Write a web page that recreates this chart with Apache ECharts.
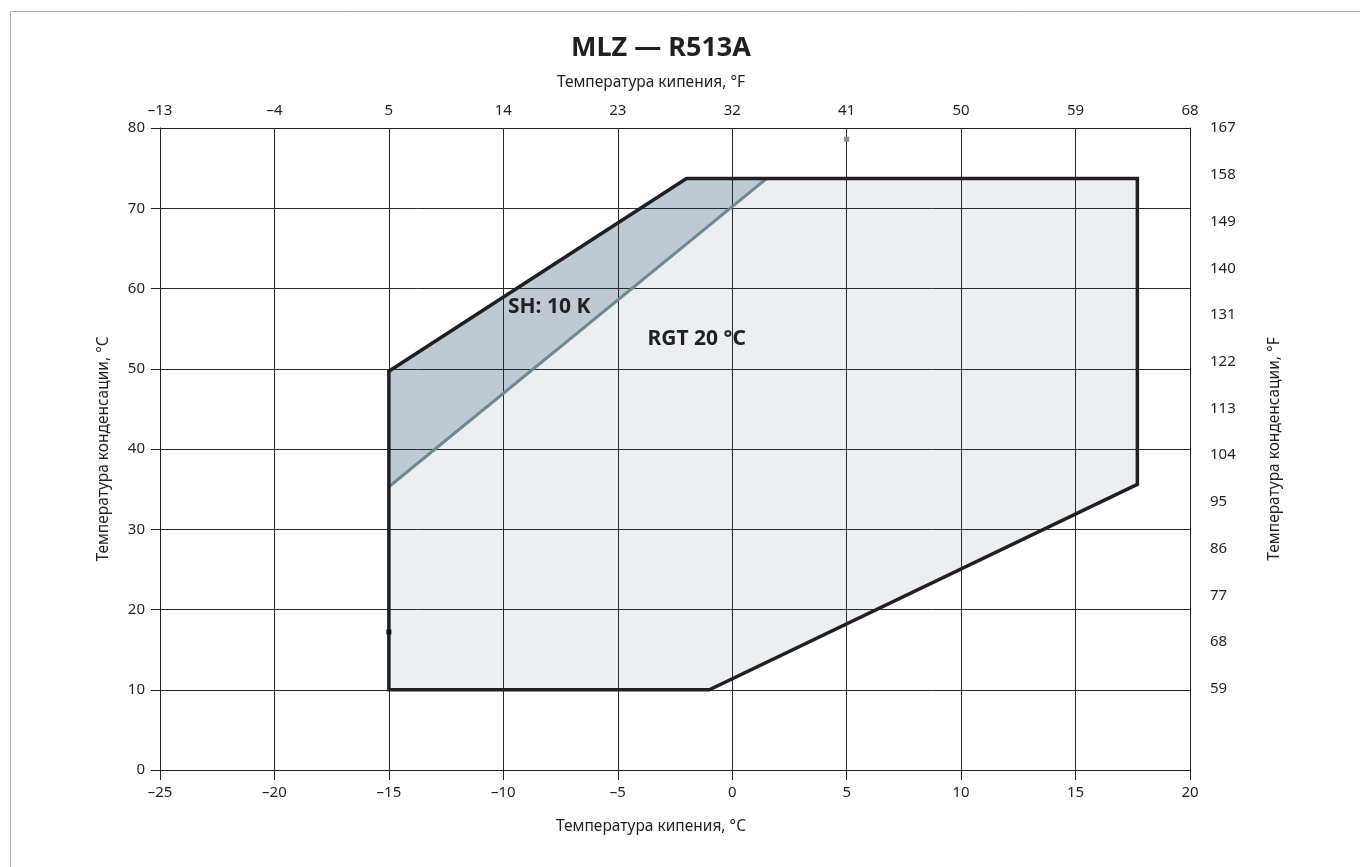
<!DOCTYPE html>
<html>
<head>
<meta charset="utf-8">
<script src="https://cdn.jsdelivr.net/npm/echarts@6/dist/echarts.min.js"></script>
<style>html,body{margin:0;padding:0;background:#fff;}#c{width:1360px;height:867px;}</style>
</head>
<body>
<div id="c"></div>
<script>
// ---- data ----
const titleText = 'MLZ — R513A';
const xNameC = 'Температура кипения, °C';
const xNameF = 'Температура кипения, °F';
const yNameC = 'Температура конденсации, °C';
const yNameF = 'Температура конденсации, °F';
const topTicksF = [-13, -4, 5, 14, 23, 32, 41, 50, 59, 68];
const rightTicksF = [59, 68, 77, 86, 95, 104, 113, 122, 131, 140, 149, 158, 167];
// operating envelope (evap °C, cond °C)
const envelopeX = [-15, -15, -2, 17.7, 17.7, -1, -15];
const envelopeY = [10, 49.7, 73.7, 73.7, 35.6, 10, 10];
// SH 10 K band
const bandX = [-15, -2, 1.5, -15];
const bandY = [49.7, 73.7, 73.7, 35.3];
const bandLineX = [-15, 1.5];
const bandLineY = [35.3, 73.7];
const labelTexts = ['SH: 10 K', 'RGT 20 °C'];
const labelX = [-9.8, -3.7];
const labelY = [57.7, 53.7];
const markX = [5, -15];
const markY = [78.6, 17.2];
const markColors = ['#8a8f94', '#111111'];

const ink = '#231f20';
const font = 'Noto Sans, Open Sans, sans-serif';

function polySeries(xs, ys, fill, stroke, lw, z, closed) {
  const pts = xs.map((x, i) => [x, ys[i]]);
  return {
    type: 'custom', z: z, silent: true,
    xAxisIndex: 0, yAxisIndex: 0,
    data: [0],
    renderItem: function (params, api) {
      const p = pts.map(q => api.coord(q));
      if (closed) {
        return { type: 'polygon', shape: { points: p },
          style: { fill: fill || 'none', stroke: stroke || 'none', lineWidth: lw || 0, lineJoin: 'miter' } };
      }
      return { type: 'polyline', shape: { points: p },
        style: { fill: 'none', stroke: stroke, lineWidth: lw, lineJoin: 'miter' } };
    }
  };
}

const chart = echarts.init(document.getElementById('c'));
chart.setOption({
  backgroundColor: '#fff',
  animation: false,
  title: {
    text: titleText, left: 656, top: 30, textAlign: 'center',
    textStyle: { fontFamily: font, fontSize: 27, fontWeight: 'bold', color: ink }
  },
  graphic: [{
    type: 'rect', left: 8, top: 9, silent: true,
    shape: { width: 1400, height: 900 },
    style: { fill: 'none', stroke: '#a7b3bb', lineWidth: 1 }
  }],
  grid: { left: 160, right: 170, top: 128, bottom: 97, containLabel: false },
  xAxis: [{
    type: 'value', position: 'bottom', min: -25, max: 20, interval: 5, z: 3,
    name: xNameC, nameLocation: 'middle', nameGap: 49,
    nameTextStyle: { fontFamily: font, fontSize: 15.5, color: ink, padding: [0, 48, 0, 0] },
    axisLine: { show: true, onZero: false, lineStyle: { color: ink, width: 1 } },
    axisTick: { show: true, length: 10, lineStyle: { color: ink } },
    axisLabel: { margin: 15, fontFamily: font, fontSize: 15, color: ink,
      formatter: v => (v < 0 ? '\u2013' + Math.abs(v) : '' + v) },
    splitLine: { show: true, lineStyle: { color: '#2a2a2a', width: 1 } }
  }, {
    type: 'value', position: 'top', min: -13, max: 68, z: 3,
    name: xNameF, nameLocation: 'middle', nameGap: 37,
    nameTextStyle: { fontFamily: font, fontSize: 15.5, color: ink, padding: [0, 48, 0, 0] },
    axisLine: { show: true, onZero: false, lineStyle: { color: ink, width: 1 } },
    axisTick: { show: false, customValues: topTicksF },
    axisLabel: { margin: 10, fontFamily: font, fontSize: 15, color: ink, customValues: topTicksF,
      formatter: v => (v < 0 ? '\u2013' + Math.abs(v) : '' + v) },
    splitLine: { show: false }
  }],
  yAxis: [{
    type: 'value', position: 'left', min: 0, max: 80, interval: 10, z: 3,
    name: yNameC, nameLocation: 'middle', nameGap: 48, nameRotate: 90,
    nameTextStyle: { fontFamily: font, fontSize: 15.5, color: ink },
    axisLine: { show: true, onZero: false, lineStyle: { color: ink, width: 1 } },
    axisTick: { show: true, length: 9, lineStyle: { color: ink } },
    axisLabel: { margin: 15, fontFamily: font, fontSize: 15, color: ink },
    splitLine: { show: true, lineStyle: { color: '#2a2a2a', width: 1 } }
  }, {
    type: 'value', position: 'right', min: 43.4, max: 167, z: 3,
    name: yNameF, nameLocation: 'middle', nameGap: 77, nameRotate: 90,
    nameTextStyle: { fontFamily: font, fontSize: 15.5, color: ink },
    axisLine: { show: true, onZero: false, lineStyle: { color: ink, width: 1 } },
    axisTick: { show: false, customValues: rightTicksF },
    axisLabel: { margin: 20, fontFamily: font, fontSize: 15, color: ink, customValues: rightTicksF },
    splitLine: { show: false }
  }],
  series: [
    polySeries(envelopeX, envelopeY, '#eceff2', null, 0, 1, true),
    polySeries(bandX, bandY, '#bec9d1', null, 0, 1, true),
    polySeries(bandLineX, bandLineY, null, '#6f8793', 3, 4, false),
    polySeries(envelopeX, envelopeY, null, ink, 3.5, 5, true),
    {
      type: 'scatter', z: 6, silent: true, symbolSize: 0,
      itemStyle: { opacity: 1 },
      data: labelX.map((x, i) => ({ value: [x, labelY[i]], name: labelTexts[i] })),
      label: { show: true, position: 'right', distance: 0, formatter: p => p.name,
        fontFamily: font, fontSize: 21, fontWeight: 'bold', color: ink }
    },
    {
      type: 'scatter', z: 6, silent: true, symbol: 'rect', symbolSize: 5,
      data: markX.map((x, i) => ({ value: [x, markY[i]], itemStyle: { color: markColors[i], opacity: 1 } }))
    }
  ]
});
</script>
</body>
</html>
